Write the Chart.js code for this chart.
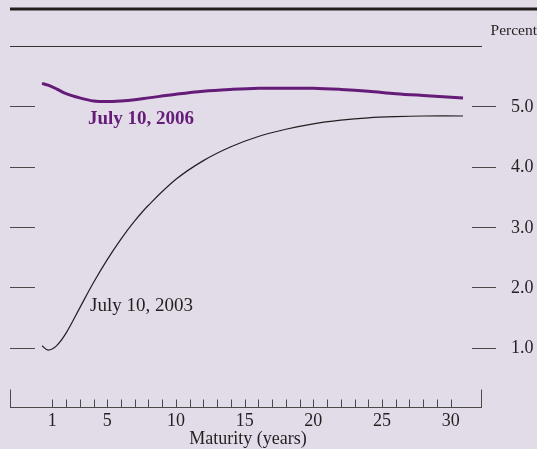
<!DOCTYPE html>
<html>
<head>
<meta charset="utf-8">
<script src="https://cdn.jsdelivr.net/npm/chart.js@4/dist/chart.umd.min.js"></script>
<style>
  html, body { margin: 0; padding: 0; background: #e2dbe8; }
  canvas { display: block; }
</style>
</head>
<body>
<canvas id="yieldChart" width="537" height="449"></canvas>
<script>
// maturities in years
const maturities = [0.25, 0.7, 1.3, 2, 3, 4, 5, 6, 7, 8, 10, 12, 14, 16, 18, 20, 22, 24, 26, 28, 30.9];
// yield curve, July 10, 2006 (percent)
const yields2006 = [5.38, 5.35, 5.29, 5.21, 5.14, 5.09, 5.08, 5.09, 5.11, 5.14, 5.20, 5.25, 5.28, 5.30, 5.30, 5.30, 5.28, 5.25, 5.21, 5.18, 5.14];
// yield curve, July 10, 2003 (percent)
const yields2003 = [1.03, 0.96, 1.03, 1.24, 1.66, 2.08, 2.46, 2.80, 3.10, 3.36, 3.79, 4.10, 4.33, 4.50, 4.62, 4.71, 4.77, 4.81, 4.83, 4.84, 4.84];

const xMinorTicks = [];
for (let i = 1; i <= 30; i++) xMinorTicks.push(i);
const xTickLabels = [1, 5, 10, 15, 20, 25, 30];
const yTicks = [1, 2, 3, 4, 5];

const serif = '"Liberation Serif", "DejaVu Serif", serif';

// frame, ticks and labels drawn with the chart's scales
const framePlugin = {
  id: "frame",
  beforeDraw(chart) {
    const c = chart.ctx;
    c.save();
    c.fillStyle = "#e2dbe8";
    c.fillRect(0, 0, chart.width, chart.height);
    c.restore();
  },
  afterDraw(chart) {
    const c = chart.ctx;
    const xs = chart.scales.x;
    const ys = chart.scales.y;
    const area = chart.chartArea;
    const y0 = ys.getPixelForValue(0);

    c.save();
    // thick rule on top
    c.strokeStyle = "#231f20";
    c.lineWidth = 3;
    c.beginPath();
    c.moveTo(area.left, 9);
    c.lineTo(chart.width, 9);
    c.stroke();

    // thin rule at 6 percent
    c.lineWidth = 1;
    c.strokeStyle = "#333";
    const yTop = Math.round(ys.getPixelForValue(6)) + 0.5;
    c.beginPath();
    c.moveTo(area.left, yTop);
    c.lineTo(area.right, yTop);
    c.stroke();

    // x axis
    c.strokeStyle = "#4a4a4a";
    const yb = Math.round(y0) - 0.5;
    c.beginPath();
    c.moveTo(area.left, yb);
    c.lineTo(area.right, yb);
    c.moveTo(area.left + 0.5, yb);
    c.lineTo(area.left + 0.5, yb - 18);
    c.moveTo(area.right - 0.5, yb);
    c.lineTo(area.right - 0.5, yb - 18);
    xMinorTicks.forEach(v => {
      const px = Math.round(xs.getPixelForValue(v)) + 0.5;
      c.moveTo(px, yb);
      c.lineTo(px, yb - 8);
    });
    c.stroke();

    // y ticks, both sides
    c.beginPath();
    yTicks.forEach(v => {
      const py = Math.round(ys.getPixelForValue(v)) + 0.5;
      c.moveTo(10, py);
      c.lineTo(35, py);
      c.moveTo(472, py);
      c.lineTo(496, py);
    });
    c.stroke();

    c.fillStyle = "#231f20";
    c.font = "18px " + serif;
    c.textAlign = "left";
    c.textBaseline = "middle";
    yTicks.forEach(v => {
      c.fillText(v.toFixed(1), 511, ys.getPixelForValue(v) + 1);
    });

    c.textAlign = "center";
    c.textBaseline = "alphabetic";
    xTickLabels.forEach(v => {
      c.fillText(String(v), xs.getPixelForValue(v), 426);
    });
    c.fillText("Maturity (years)", 248, 444);

    c.font = "15.5px " + serif;
    c.textAlign = "right";
    c.fillText("Percent", 537, 35);

    // series labels
    c.textAlign = "left";
    c.font = "bold 19px " + serif;
    c.fillStyle = "#651b78";
    c.fillText("July 10, 2006", 88, 124);
    c.font = "19px " + serif;
    c.fillStyle = "#231f20";
    c.fillText("July 10, 2003", 90, 311);
    c.restore();
  }
};

const ctx = document.getElementById("yieldChart").getContext("2d");
const yieldChart = new Chart(ctx, {
  type: "line",
  data: {
    datasets: [
      {
        label: "July 10, 2006",
        data: maturities.map((m, i) => ({ x: m, y: yields2006[i] })),
        borderColor: "#651b78",
        borderWidth: 3,
        pointRadius: 0,
        tension: 0.35,
        fill: false,
      },
      {
        label: "July 10, 2003",
        data: maturities.map((m, i) => ({ x: m, y: yields2003[i] })),
        borderColor: "#231f20",
        borderWidth: 1.2,
        pointRadius: 0,
        tension: 0.35,
        fill: false,
      },
    ],
  },
  options: {
    responsive: false,
    animation: false,
    devicePixelRatio: 1,
    layout: { padding: { left: 10, right: 55, top: 46, bottom: 41 } },
    plugins: { legend: { display: false }, tooltip: { enabled: false } },
    scales: {
      x: { type: "linear", min: -2.08, max: 32.28, display: false },
      y: { min: 0, max: 6, display: false },
    },
  },
  plugins: [framePlugin],
});
</script>
</body>
</html>
